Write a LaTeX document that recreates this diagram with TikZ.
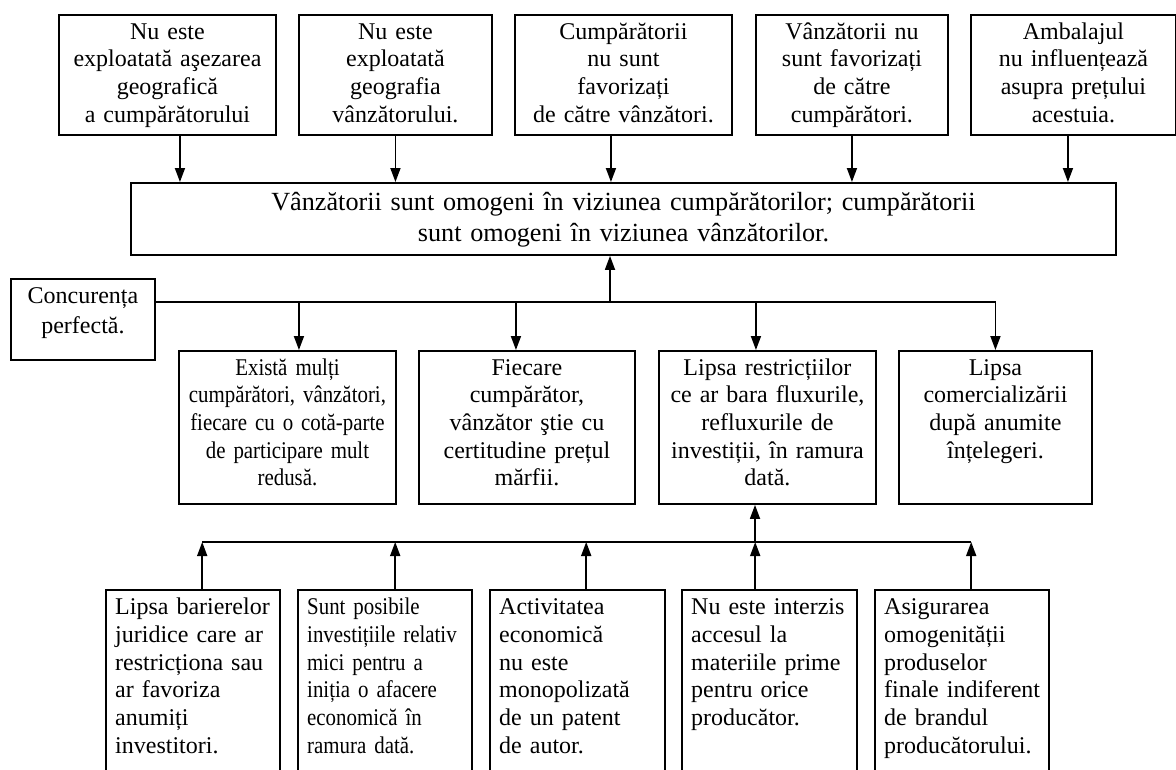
\documentclass[tikz,border=0pt]{standalone}
\usepackage{fontspec}
\setmainfont{Liberation Serif}
\newfontfamily\condfont[FakeStretch=0.87]{Liberation Serif}
\usetikzlibrary{arrows.meta,calc}
\tikzset{
  frame/.style={draw, line width=1.9pt, inner sep=0pt, anchor=north west},
  ghost/.style={inner sep=0pt, anchor=north west},
  boxline/.style={line width=1.9pt},
  arr/.style={line width=1.7pt, -{Triangle[length=14pt,width=10pt]}},
  ln/.style={line width=1.7pt},
  txt/.style={inner sep=0pt, anchor=base, align=center, font=\fontsize{24}{27.7}\selectfont},
  ltxt/.style={inner sep=0pt, anchor=base west, align=left, font=\fontsize{24}{27.7}\selectfont},
}
\begin{document}
\begin{tikzpicture}[x=1pt,y=-1pt]
\useasboundingbox[fill=white] (0,0) rectangle (1176,769);
% top row
\node[frame, minimum width=217pt, minimum height=120pt] (T1) at (58,14) {};
\node[frame, minimum width=193pt, minimum height=120pt] (T2) at (298,14) {};
\node[frame, minimum width=217pt, minimum height=120pt] (T3) at (514,14) {};
\node[frame, minimum width=192pt, minimum height=120pt] (T4) at (755,14) {};
\node[frame, minimum width=205pt, minimum height=120pt] (T5) at (970,14) {};
\node[txt, text width=215pt] (T1t) at ([yshift=-25pt]T1.north) {Nu este\\exploatată aşezarea\\geografică\\a cumpărătorului};
\node[txt, text width=190pt] (T2t) at ([yshift=-25pt]T2.north) {Nu este\\exploatată\\geografia\\vânzătorului.};
\node[txt, text width=215pt] (T3t) at ([yshift=-25pt]T3.north) {Cumpărătorii\\nu sunt\\favorizați\\de către vânzători.};
\node[txt, text width=190pt] (T4t) at ([yshift=-25pt]T4.north) {Vânzătorii nu\\sunt favorizați\\de către\\cumpărători.};
\node[txt, text width=200pt] (T5t) at ([yshift=-25pt]T5.north) {Ambalajul\\nu influențează\\asupra prețului\\acestuia.};
% main box
\node[frame, minimum width=985pt, minimum height=72pt] (M) at (130,182) {};
\node[txt, text width=980pt, font=\fontsize{26.2}{31}\selectfont] (Mt) at ([yshift=-28pt]M.north) {Vânzătorii sunt omogeni în viziunea cumpărătorilor; cumpărătorii\\sunt omogeni în viziunea vânzătorilor.};
% concurenta
\node[frame, minimum width=144pt, minimum height=81pt] (C) at (10,278) {};
\node[txt, text width=140pt, font=\fontsize{24}{30}\selectfont] (Ct) at ([yshift=-25pt]C.north) {Concurența\\perfectă.};
% middle row
\node[frame, minimum width=217pt, minimum height=153pt] (A) at (178,350) {};
\node[frame, minimum width=216pt, minimum height=153pt] (B) at (418,350) {};
\node[frame, minimum width=217pt, minimum height=153pt] (Cc) at (658,350) {};
\node[frame, minimum width=193pt, minimum height=153pt] (D) at (898,350) {};
\node[txt, text width=212pt, font=\fontsize{24}{27.7}\condfont] (At) at ([yshift=-25pt]A.north) {Există mulți\\cumpărători, vânzători,\\fiecare cu o cotă-parte\\de participare mult\\redusă.};
\node[txt, text width=212pt] (Bt) at ([yshift=-25pt]B.north) {Fiecare\\cumpărător,\\vânzător ştie cu\\certitudine prețul\\mărfii.};
\node[txt, text width=214pt] (Cct) at ([yshift=-25pt]Cc.north) {Lipsa restricțiilor\\ce ar bara fluxurile,\\refluxurile de\\investiții, în ramura\\dată.};
\node[txt, text width=190pt] (Dt) at ([yshift=-25pt]D.north) {Lipsa\\comercializării\\după anumite\\înțelegeri.};
% bottom row (open at bottom)
\node[ghost, minimum width=174pt, minimum height=182pt] (B1) at (106,590) {};
\node[ghost, minimum width=174pt, minimum height=182pt] (B2) at (298,590) {};
\node[ghost, minimum width=175pt, minimum height=182pt] (B3) at (490,590) {};
\node[ghost, minimum width=175pt, minimum height=182pt] (B4) at (682,590) {};
\node[ghost, minimum width=174pt, minimum height=182pt] (B5) at (875,590) {};
\foreach \b in {B1,B2,B3,B4,B5}{
  \draw[boxline] (\b.south west) |- (\b.north east) -- (\b.south east);
}
\node[ltxt, text width=165pt] (B1t) at ([xshift=9pt,yshift=-24.7pt]B1.north west) {Lipsa barierelor\\juridice care ar\\restricționa sau\\ar favoriza\\anumiți\\investitori.};
\node[ltxt, text width=165pt, font=\fontsize{24}{27.7}\condfont] (B2t) at ([xshift=9pt,yshift=-24.7pt]B2.north west) {Sunt posibile\\investițiile relativ\\mici pentru a\\iniția o afacere\\economică în\\ramura dată.};
\node[ltxt, text width=165pt] (B3t) at ([xshift=9pt,yshift=-24.7pt]B3.north west) {Activitatea\\economică\\nu este\\monopolizată\\de un patent\\de autor.};
\node[ltxt, text width=165pt] (B4t) at ([xshift=9pt,yshift=-24.7pt]B4.north west) {Nu este interzis\\accesul la\\materiile prime\\pentru orice\\producător.};
\node[ltxt, text width=165pt] (B5t) at ([xshift=9pt,yshift=-24.7pt]B5.north west) {Asigurarea\\omogenității\\produselor\\finale indiferent\\de brandul\\producătorului.};
% connectors top -> main
\draw[arr] ([xshift=12.5pt]T1.south) -- ([xshift=12.5pt]T1.south |- M.north);
\draw[arr] (T2.south) -- (T2.south |- M.north);
\draw[arr] ([xshift=-12.5pt]T3.south) -- ([xshift=-12.5pt]T3.south |- M.north);
\draw[arr] (T4.south) -- (T4.south |- M.north);
\draw[arr] ([xshift=-5.5pt]T5.south) -- ([xshift=-5.5pt]T5.south |- M.north);
% middle hub
\coordinate (hub1) at (610,302);
\draw[arr] (C.east |- hub1) -- (D.north |- hub1) -- (D.north);
\draw[arr] (hub1) -- (hub1 |- M.south);
\draw[arr] ([xshift=11.5pt]A.north |- hub1) -- ([xshift=11.5pt]A.north);
\draw[arr] ([xshift=-11pt]B.north |- hub1) -- ([xshift=-11pt]B.north);
\draw[arr] ([xshift=-11.5pt]Cc.north |- hub1) -- ([xshift=-11.5pt]Cc.north);
% bottom hub
\coordinate (hub2) at (755,542);
\draw[ln] ([xshift=9pt]B1.north |- hub2) -- ([xshift=9pt]B5.north |- hub2);
\draw[arr] (hub2) -- (hub2 |- Cc.south);
\draw[arr] ([xshift=9pt]B1.north) -- ([xshift=9pt]B1.north |- hub2);
\draw[arr] ([xshift=10pt]B2.north) -- ([xshift=10pt]B2.north |- hub2);
\draw[arr] ([xshift=8.5pt]B3.north) -- ([xshift=8.5pt]B3.north |- hub2);
\draw[arr] ([xshift=-14.5pt]B4.north) -- ([xshift=-14.5pt]B4.north |- hub2);
\draw[arr] ([xshift=9pt]B5.north) -- ([xshift=9pt]B5.north |- hub2);
\end{tikzpicture}
\end{document}
